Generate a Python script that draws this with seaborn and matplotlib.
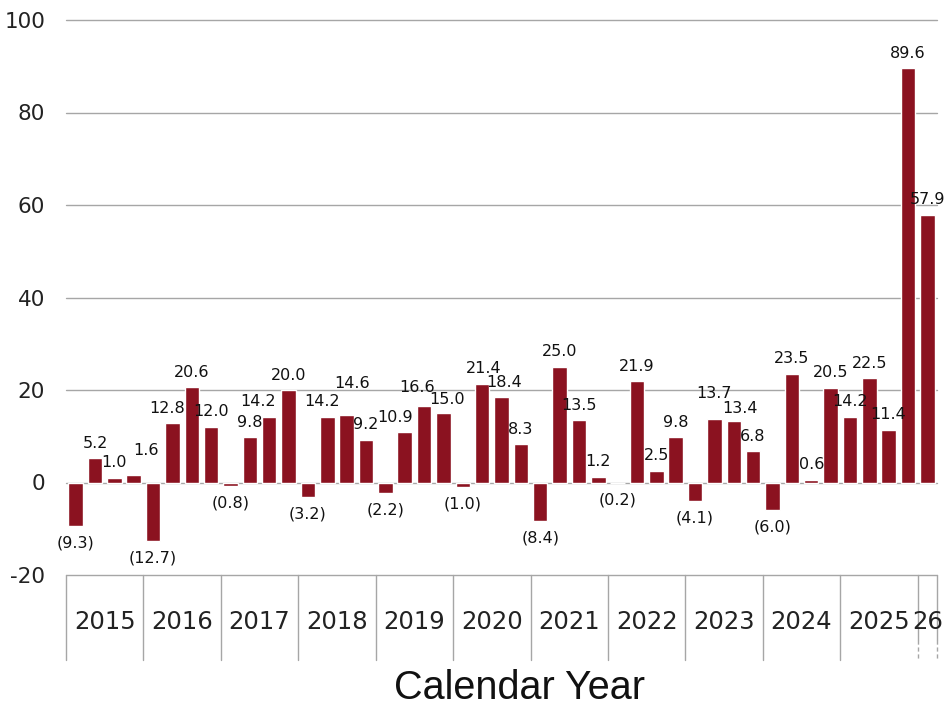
import matplotlib
matplotlib.use("Agg")
import matplotlib.pyplot as plt
import matplotlib.transforms as mtransforms
import numpy as np
import pandas as pd
import seaborn as sns

# 数据：季度数值（2015Q1 - 2026Q1）
years = ["2015", "2016", "2017", "2018", "2019", "2020", "2021",
         "2022", "2023", "2024", "2025", "26"]
quarters_per_year = [4, 4, 4, 4, 4, 4, 4, 4, 4, 4, 4, 1]
values = [
    -9.3, 5.2, 1.0, 1.6,
    -12.7, 12.8, 20.6, 12.0,
    -0.8, 9.8, 14.2, 20.0,
    -3.2, 14.2, 14.6, 9.2,
    -2.2, 10.9, 16.6, 15.0,
    -1.0, 21.4, 18.4, 8.3,
    -8.4, 25.0, 13.5, 1.2,
    -0.2, 21.9, 2.5, 9.8,
    -4.1, 13.7, 13.4, 6.8,
    -6.0, 23.5, 0.6, 20.5,
    14.2, 22.5, 11.4, 89.6,
    57.9,
]
y_ticks = [-20, 0, 20, 40, 60, 80, 100]

labels = []
for yr, n in zip(years, quarters_per_year):
    labels += [f"{yr}Q{q + 1}" for q in range(n)]
df = pd.DataFrame({"quarter": labels, "value": values})

sns.set_theme(style="white")
plt.rcParams["font.family"] = ["DejaVu Sans"]

bar_color = "#8B1220"
grid_color = "#A6A6A6"

# 像 Excel 那样避免标签重叠的微调（像素：dx, dy 向上）
label_nudge = {3: (12, 10), 5: (-5, 0), 10: (-11, 0), 13: (-5, 0), 14: (5, 16),
               17: (-10, 0), 18: (-7, 3), 19: (4, -1), 21: (2, 0), 22: (3, 0),
               33: (0, 11), 34: (6, -3)}

fig = plt.figure(figsize=(9.49, 7.07), dpi=100)
ax = fig.add_axes([66 / 949, 1 - 575 / 707, 871 / 949, 555 / 707])

sns.barplot(data=df, x="quarter", y="value", color=bar_color,
            width=0.75, saturation=1, ax=ax, zorder=3)

ax.set_xlim(-0.5, len(values) - 0.5)
ax.set_ylim(-20, 100)
ax.set_yticks(y_ticks)
ax.set_yticklabels([str(t) for t in y_ticks], fontsize=15.5, color="#222222")
ax.tick_params(axis="y", length=0, pad=15)
ax.set_xticks([])
ax.set_xlabel("")
ax.set_ylabel("")
for s in ax.spines.values():
    s.set_visible(False)

# 网格线
for t in y_ticks:
    ax.axhline(t, color=grid_color, linewidth=1.0, zorder=1, clip_on=False)

# 数据标签
px = 0.72  # 像素 -> 点
for i, (p, v) in enumerate(zip(ax.patches, values)):
    cx = p.get_x() + p.get_width() / 2
    dx, dy = label_nudge.get(i, (0, 0))
    if v >= 0:
        ax.annotate(f"{v:.1f}", (cx, v), xytext=(dx * px, (15 + dy) * px),
                    textcoords="offset points", ha="center", va="center",
                    fontsize=11.5, color="#111111", zorder=5)
    else:
        ax.annotate(f"({abs(v):.1f})", (cx, v), xytext=(dx * px, -17 * px),
                    textcoords="offset points", ha="center", va="center",
                    fontsize=11.5, color="#111111", zorder=5)

# 分类轴：年份分隔线和年份标签
trans = mtransforms.blended_transform_factory(ax.transData, ax.transAxes)
box_h = 85 / 555
dash_start = 65 / 555
edges = np.concatenate([[0], np.cumsum(quarters_per_year)]) - 0.5
for i, e in enumerate(edges):
    if i >= len(edges) - 2:
        ax.plot([e, e], [0, -dash_start], transform=trans, color=grid_color,
                linewidth=1.0, clip_on=False)
        ax.plot([e, e], [-dash_start, -box_h], transform=trans, color=grid_color,
                linewidth=1.0, linestyle=(0, (3, 2)), clip_on=False)
    else:
        ax.plot([e, e], [0, -box_h], transform=trans, color=grid_color,
                linewidth=1.0, clip_on=False)
for yr, a, b in zip(years, edges[:-1], edges[1:]):
    ax.text((a + b) / 2, -47 / 555, yr, transform=trans, ha="center", va="center",
            fontsize=17.5, color="#222222")

fig.text(519 / 949, 1 - 688 / 707, "Calendar Year", ha="center", va="center",
         fontsize=28.5, color="#111111", family=["Liberation Sans", "DejaVu Sans"])

fig.savefig("out.png", dpi=100)
